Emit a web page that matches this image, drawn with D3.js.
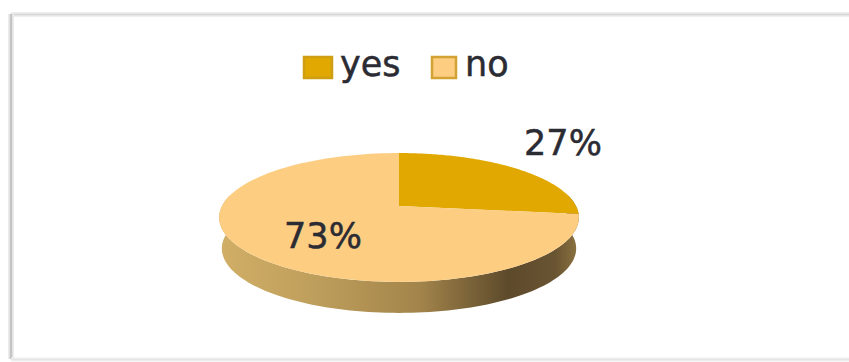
<!DOCTYPE html>
<html>
<head>
<meta charset="utf-8">
<script src="https://cdn.jsdelivr.net/npm/d3@7/dist/d3.min.js"></script>
<style>
html,body{margin:0;padding:0;background:#fff;overflow:hidden}
text{font-family:"DejaVu Sans",sans-serif;fill:#2b2b33;stroke:#2b2b33;stroke-width:0.5}
</style>
</head>
<body>
<svg id="chart" width="849" height="362"></svg>
<script>
const categories = ["yes", "no"];
const shares = [27, 73];
const sliceColors = ["#e0a800", "#fdcd82"];
const swatchStroke = ["#cf9e12", "#d2a233"];
const wallStops = [
  [0, "#d0ae66"], [0.25, "#bf9f5c"], [0.55, "#a3854b"],
  [0.8, "#5d4a2b"], [0.93, "#695432"], [1, "#8f7542"]
];

const svg = d3.select("#chart");
const cx = 399, cy = 206, radius = 177, tilt = 62.4, persp = 0.178, depth = 31;

// Perspective projection of the unit disc onto the screen;
// angle runs clockwise from 12 o'clock.
const project = (a, r = 1, drop = 0, shrink = 1) => {
  const x = Math.sin(a) * r, z = -Math.cos(a) * r;
  const w = 1 - persp * z;
  return [cx + radius * shrink * x / w, cy + drop + tilt * z / w];
};
const line = d3.line();
const arcPoints = (a0, a1, drop = 0, shrink = 1) =>
  d3.range(0, 121).map(i => project(a0 + (a1 - a0) * i / 120, 1, drop, shrink));

// Card frame: a soft grey edge on the top, left and bottom
const frameEdges = [
  ["M849,14.5H11", "#f0f0f0", 5], ["M849,14.5H11", "#d8d8d8", 2],
  ["M11,14V359", "#ececec", 6], ["M11,14V359", "#c4c4c4", 2.5],
  ["M849,359.5H11", "#f0f0f0", 4], ["M849,359.5H11", "#e4e4e4", 1.5]
];
svg.append("g").attr("fill", "none").selectAll("path").data(frameEdges).join("path")
  .attr("d", d => d[0]).attr("stroke", d => d[1]).attr("stroke-width", d => d[2]);

const defs = svg.append("defs");
const grad = defs.append("linearGradient").attr("id", "wall")
  .attr("gradientUnits", "userSpaceOnUse")
  .attr("x1", cx - radius).attr("x2", cx + radius + 4).attr("y1", 0).attr("y2", 0);
wallStops.forEach(([o, c]) => grad.append("stop").attr("offset", o).attr("stop-color", c));

const pieData = d3.pie().sort(null).value(d => d)(shares);

// Side wall: the visible front half between the top rim and the dropped rim
const wallFrom = Math.PI / 2 - 0.18, wallTo = 3 * Math.PI / 2 + 0.18;
const rimTop = arcPoints(wallFrom, wallTo);
const rimBottom = arcPoints(wallFrom, wallTo, depth, 0.985).reverse();
svg.append("path")
  .attr("d", line(rimTop.concat(rimBottom)) + "Z")
  .attr("fill", "url(#wall)");

// Top face slices
svg.selectAll("path.slice").data(pieData).join("path")
  .attr("class", "slice")
  .attr("d", d => line([[cx, cy]].concat(arcPoints(d.startAngle, d.endAngle))) + "Z")
  .attr("fill", (d, i) => sliceColors[i]);

// Percentage labels
const labelPos = [[563, 155], [323, 248]];
svg.selectAll("text.pct").data(pieData).join("text")
  .attr("class", "pct")
  .attr("x", (d, i) => labelPos[i][0])
  .attr("y", (d, i) => labelPos[i][1])
  .attr("text-anchor", "middle")
  .attr("font-size", 35)
  .text(d => d.data + "%");

// Legend
const legendX = [303, 431], legendTextX = [340, 465];
const legend = svg.selectAll("g.legend").data(categories).join("g").attr("class", "legend");
legend.append("rect")
  .attr("x", (d, i) => legendX[i] + 1).attr("y", 57)
  .attr("width", (d, i) => i ? 24 : 28).attr("height", 21)
  .attr("fill", (d, i) => sliceColors[i])
  .attr("stroke", (d, i) => swatchStroke[i]).attr("stroke-width", 2.5);
legend.append("text")
  .attr("x", (d, i) => legendTextX[i]).attr("y", 76)
  .attr("font-size", 35).text(d => d);
</script>
</body>
</html>
